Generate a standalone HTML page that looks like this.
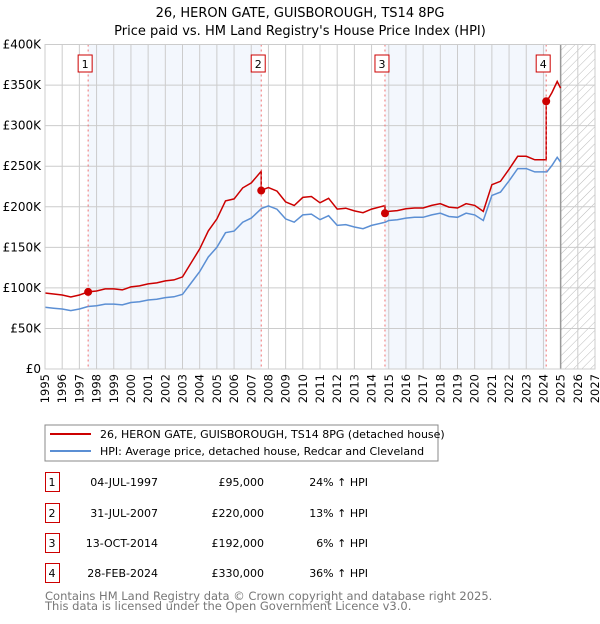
<!DOCTYPE html>
<html><head><meta charset="utf-8"><style>
body{margin:0;background:#fff;font-family:"DejaVu Sans","Liberation Sans",sans-serif;}
svg text{font-family:"DejaVu Sans","Liberation Sans",sans-serif;}
</style></head><body>
<svg id="c" width="600" height="620" xmlns="http://www.w3.org/2000/svg">
<defs><pattern id="hatch" width="6" height="6" patternUnits="userSpaceOnUse" patternTransform="rotate(45)"><line x1="0" y1="0" x2="0" y2="6" stroke="#bbb" stroke-width="1"/></pattern></defs>
<text x="300" y="17" text-anchor="middle" font-size="13">26, HERON GATE, GUISBOROUGH, TS14 8PG</text>
<text x="300" y="35" text-anchor="middle" font-size="13">Price paid vs. HM Land Registry's House Price Index (HPI)</text>
<g id="plot"></g>
<rect x="45" y="425" width="393" height="36" fill="#fff" stroke="#888"/>
<line x1="50" y1="434" x2="91" y2="434" stroke="#cc0000" stroke-width="2"/>
<text x="100" y="438" font-size="11">26, HERON GATE, GUISBOROUGH, TS14 8PG (detached house)</text>
<line x1="50" y1="451" x2="91" y2="451" stroke="#5b8fd4" stroke-width="2"/>
<text x="100" y="455" font-size="11">HPI: Average price, detached house, Redcar and Cleveland</text>
<g id="table"></g>
<text x="45" y="600" font-size="11.5" fill="#777">Contains HM Land Registry data © Crown copyright and database right 2025.</text>
<text x="45" y="610" font-size="11.5" fill="#777">This data is licensed under the Open Government Licence v3.0.</text>
</svg>
<script>
const hpiYears=[1995,1995.5,1996,1996.5,1997,1997.5,1998,1998.5,1999,1999.5,2000,2000.5,2001,2001.5,2002,2002.5,2003,2003.5,2004,2004.5,2005,2005.5,2006,2006.5,2007,2007.6,2008,2008.5,2009,2009.5,2010,2010.5,2011,2011.5,2012,2012.5,2013,2013.5,2014,2014.8,2015,2015.5,2016,2016.5,2017,2017.5,2018,2018.5,2019,2019.5,2020,2020.5,2021,2021.5,2022,2022.5,2023,2023.5,2024,2024.2,2024.5,2024.8,2025];
const hpiValues=[76,75,74,72,74,77,78,80,80,79,82,83,85,86,88,89,92,106,120,138,150,168,170,181,186,198,201,197,185,181,190,191,184,189,177,178,175,173,177,181,183,184,186,187,187,190,192,188,187,192,190,183,214,218,232,247,247,243,243,243,251,261,255];
const saleDates=[1997.51,2007.58,2014.78,2024.16];
const salePrices=[95,220,192,330];
const saleLabels=["1","2","3","4"];
const saleDateText=["04-JUL-1997","31-JUL-2007","13-OCT-2014","28-FEB-2024"];
const salePriceText=["£95,000","£220,000","£192,000","£330,000"];
const saleHpiText=["24% ↑ HPI","13% ↑ HPI","6% ↑ HPI","36% ↑ HPI"];
const yTicks=[0,50,100,150,200,250,300,350,400];
const yTickLabels=["£0","£50K","£100K","£150K","£200K","£250K","£300K","£350K","£400K"];
const xTicks=[1995,1996,1997,1998,1999,2000,2001,2002,2003,2004,2005,2006,2007,2008,2009,2010,2011,2012,2013,2014,2015,2016,2017,2018,2019,2020,2021,2022,2023,2024,2025,2026,2027];

const X0=45,X1=595,Y0=369,Y1=44.5;
const xS=t=>X0+(t-1995)/(2027-1995)*(X1-X0);
const yS=v=>Y0-v/400*(Y0-Y1);
const NS="http://www.w3.org/2000/svg";
const plot=document.getElementById('plot');
function mk(tag,attrs,parent,txt){const e=document.createElementNS(NS,tag);for(const k in attrs)e.setAttribute(k,attrs[k]);if(txt!==undefined)e.textContent=txt;(parent||plot).appendChild(e);return e;}
function hpiAt(t){if(t<=hpiYears[0])return hpiValues[0];for(let i=1;i<hpiYears.length;i++){if(t<=hpiYears[i]){const f=(t-hpiYears[i-1])/(hpiYears[i]-hpiYears[i-1]);return hpiValues[i-1]+f*(hpiValues[i]-hpiValues[i-1]);}}return hpiValues[hpiValues.length-1];}

let e=mk('rect',{x:X0,y:Y1,width:X1-X0,height:Y0-Y1,fill:'#fff'});

for(let k=0;k<saleDates.length;k+=2){
  const a=saleDates[k],b=saleDates[k+1];
  e=mk('rect',{x:xS(a),y:Y1,width:xS(b)-xS(a),height:Y0-Y1,fill:'#eef3fc',opacity:0.7});
  
}
e=mk('rect',{x:xS(2025),y:Y1,width:X1-xS(2025),height:Y0-Y1,fill:'url(#hatch)'});

xTicks.forEach((t,i)=>{
  e=mk('line',{x1:xS(t),x2:xS(t),y1:Y1,y2:Y0,stroke:'#ccc','stroke-width':1});
  
  const lx=xS(t)+4,ly=Y0+5;
  e=mk('text',{x:lx,y:ly,'text-anchor':'end','font-size':11.5,transform:'rotate(-90 '+lx+' '+ly+')'},plot,String(t));
  
});
yTicks.forEach((v,i)=>{
  e=mk('line',{x1:X0,x2:X1,y1:yS(v),y2:yS(v),stroke:'#ccc','stroke-width':1});
  
  e=mk('text',{x:X0-4,y:yS(v)+4,'text-anchor':'end','font-size':12},plot,yTickLabels[i]);
  
});
e=mk('line',{x1:xS(2025),x2:xS(2025),y1:Y1,y2:Y0,stroke:'#999','stroke-width':1.5});

let d=hpiYears.map((t,i)=>(i?'L':'M')+xS(t).toFixed(1)+','+yS(hpiValues[i]).toFixed(1)).join('');
e=mk('path',{d:d,fill:'none',stroke:'#5b8fd4','stroke-width':1.5});

const pts=[];
function segVal(t,k){return salePrices[k]*hpiAt(t)/hpiAt(saleDates[k]);}
hpiYears.forEach(t=>{if(t<saleDates[0])pts.push([t,segVal(t,0)]);});
for(let k=0;k<saleDates.length;k++){
  if(k>0)pts.push([saleDates[k],segVal(saleDates[k],k-1)]);
  pts.push([saleDates[k],salePrices[k]]);
  const end=k<saleDates.length-1?saleDates[k+1]:2025;
  hpiYears.forEach(t=>{if(t>saleDates[k]&&t<=end&&t<2025.01)pts.push([t,segVal(t,k)]);});
}
d=pts.map((p,i)=>(i?'L':'M')+xS(p[0]).toFixed(1)+','+yS(p[1]).toFixed(1)).join('');
e=mk('path',{d:d,fill:'none',stroke:'#cc0000','stroke-width':1.5});

saleDates.forEach((t,k)=>{
  e=mk('line',{x1:xS(t),x2:xS(t),y1:Y1,y2:Y0,stroke:'#f07070','stroke-width':1,'stroke-dasharray':'2,3'});
  
  e=mk('circle',{cx:xS(t),cy:yS(salePrices[k]),r:4,fill:'#cc0000'});
  
  e=mk('rect',{x:xS(t)-10,y:55,width:14,height:17,fill:'#fff',stroke:'#cc0000'});
  
  e=mk('text',{x:xS(t)-3,y:68,'text-anchor':'middle','font-size':11},plot,saleLabels[k]);
  
});
e=mk('rect',{x:X0,y:Y1,width:X1-X0,height:Y0-Y1,fill:'none',stroke:'#ccc'});

const tb=document.getElementById('table');
const rowY=[482,513,543,573];
saleLabels.forEach((l,k)=>{
  const y=rowY[k];
  e=mk('rect',{x:45.5,y:y-9.5,width:14,height:19,fill:'#fff',stroke:'#cc0000'},tb);
  
  e=mk('text',{x:52,y:y+4,'text-anchor':'middle','font-size':11},tb,l);
  
  e=mk('text',{x:158,y:y+4,'text-anchor':'end','font-size':11},tb,saleDateText[k]);
  
  e=mk('text',{x:264,y:y+4,'text-anchor':'end','font-size':11},tb,salePriceText[k]);
  
  e=mk('text',{x:368,y:y+4,'text-anchor':'end','font-size':11},tb,saleHpiText[k]);
  
});
</script>
</body></html>
